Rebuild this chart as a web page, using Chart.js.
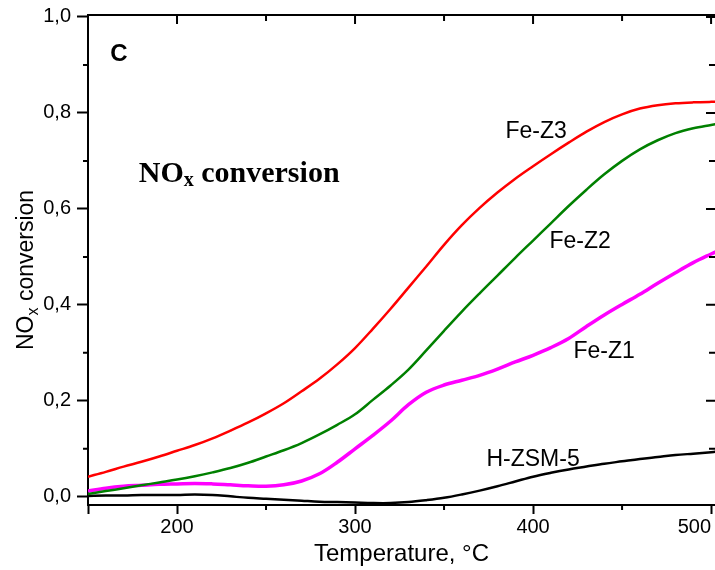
<!DOCTYPE html>
<html>
<head>
<meta charset="utf-8">
<script src="https://cdn.jsdelivr.net/npm/chart.js@4.4.0/dist/chart.umd.min.js"></script>
<style>
  body { margin: 0; background: #fff; }
</style>
</head>
<body>
<canvas id="myChart" width="715" height="570"></canvas>
<script>
// temperature (°C) and NOx conversion
const temps = [150,160,170,180,190,200,210,220,230,240,250,260,270,280,290,300,310,320,330,340,
               350,360,370,380,390,400,410,420,430,440,450,460,470,480,490,500,503];
const feZ3 = [0.042,0.052,0.063,0.073,0.084,0.096,0.108,0.122,0.138,0.155,0.174,0.195,0.220,0.246,0.276,0.310,0.350,0.392,0.436,0.480,
              0.525,0.566,0.602,0.634,0.663,0.689,0.714,0.738,0.761,0.781,0.797,0.809,0.816,0.820,0.822,0.823,0.823];
const feZ2 = [0.006,0.012,0.018,0.024,0.030,0.036,0.043,0.051,0.060,0.071,0.084,0.097,0.112,0.130,0.150,0.172,0.202,0.232,0.265,0.305,
              0.346,0.386,0.424,0.461,0.498,0.534,0.570,0.606,0.640,0.672,0.700,0.724,0.743,0.758,0.768,0.775,0.777];
const feZ1 = [0.012,0.018,0.022,0.024,0.026,0.027,0.028,0.027,0.025,0.023,0.022,0.025,0.033,0.048,0.072,0.100,0.128,0.158,0.192,0.218,
              0.233,0.243,0.253,0.266,0.281,0.295,0.311,0.330,0.355,0.379,0.401,0.422,0.445,0.467,0.488,0.506,0.511];
const hZsm5 = [0.002,0.003,0.003,0.004,0.004,0.004,0.005,0.004,0.001,-0.002,-0.004,-0.006,-0.008,-0.010,-0.011,-0.012,-0.013,-0.013,-0.011,-0.007,
               -0.002,0.005,0.013,0.022,0.032,0.042,0.050,0.057,0.063,0.069,0.074,0.079,0.083,0.087,0.090,0.093,0.094];

const seriesNames = ['Fe-Z3', 'Fe-Z2', 'Fe-Z1', 'H-ZSM-5'];

// axis ticks
const xMajor = [150, 200, 300, 400, 500];
const xMinor = [250, 350, 450];
const xTop = [200, 250, 300, 350, 400, 450, 500];
const yMajor = [0, 0.2, 0.4, 0.6, 0.8, 1.0];
const yMinor = [0.1, 0.3, 0.5, 0.7, 0.9];
const yRight = [0.1, 0.2, 0.3, 0.4, 0.5, 0.6, 0.7, 0.8, 0.9, 1.0];

function pts(vals) {
  return temps.map((t, i) => ({x: t, y: vals[i]}));
}

const sans = 'Liberation Sans, Arial, sans-serif';

// curve labels, in data coordinates
const notes = [
  {text: 'Fe-Z3', x: 401.7, y: 0.760},
  {text: 'Fe-Z2', x: 426.4, y: 0.531},
  {text: 'Fe-Z1', x: 439.9, y: 0.302},
  {text: 'H-ZSM-5', x: 400.0, y: 0.077}
];

// writes "NO", a lowered small "x", then the rest, starting at px
function noxText(ctx, px, py, big, small, drop, rest) {
  ctx.font = big;
  ctx.fillText('NO', px, py);
  px += ctx.measureText('NO').width;
  ctx.font = small;
  ctx.fillText('x', px, py + drop);
  px += ctx.measureText('x').width;
  ctx.font = big;
  ctx.fillText(rest, px, py);
}

const extras = {
  id: 'extras',
  afterDraw(chart) {
    const ctx = chart.ctx;
    const a = chart.chartArea;
    const x = chart.scales.x, y = chart.scales.y;
    ctx.save();
    ctx.strokeStyle = '#000';
    ctx.lineWidth = 2;
    ctx.beginPath();
    ctx.moveTo(a.left - 1, a.top);
    ctx.lineTo(a.right, a.top);
    xMinor.forEach(v => {
      const px = x.getPixelForValue(v);
      ctx.moveTo(px, a.bottom); ctx.lineTo(px, a.bottom + 5);
    });
    xTop.forEach(v => {
      const px = x.getPixelForValue(v);
      ctx.moveTo(px, a.top); ctx.lineTo(px, a.top + (v % 100 === 0 ? 9 : 6));
    });
    yMinor.forEach(v => {
      const py = y.getPixelForValue(v);
      ctx.moveTo(a.left, py); ctx.lineTo(a.left - 5, py);
    });
    yRight.forEach((v, i) => {
      const py = y.getPixelForValue(v);
      ctx.moveTo(a.right, py); ctx.lineTo(a.right - (i % 2 ? 9 : 6), py);
    });
    ctx.stroke();

    ctx.fillStyle = '#000';
    ctx.textAlign = 'center';
    ctx.textBaseline = 'middle';
    ctx.font = '23px ' + sans;
    notes.forEach(n => {
      ctx.fillText(n.text, x.getPixelForValue(n.x), y.getPixelForValue(n.y));
    });

    ctx.font = 'bold 24px ' + sans;
    ctx.fillText('C', x.getPixelForValue(167.4), y.getPixelForValue(0.921));

    // bold serif caption
    ctx.textAlign = 'left';
    ctx.textBaseline = 'alphabetic';
    noxText(ctx, x.getPixelForValue(178.5), y.getPixelForValue(0.677) + 10,
      'bold 30px Liberation Serif, serif', 'bold 20px Liberation Serif, serif', 4, ' conversion');

    // y axis title, rotated
    ctx.translate(33, 350);
    ctx.rotate(-Math.PI / 2);
    noxText(ctx, 0, 0, '23px ' + sans, '16px ' + sans, 5, ' conversion');
    ctx.restore();
  }
};

const ctx = document.getElementById('myChart');
new Chart(ctx, {
  type: 'line',
  data: {
    datasets: [
      {label: seriesNames[0], data: pts(feZ3), borderColor: '#ff0000', borderWidth: 2.5},
      {label: seriesNames[1], data: pts(feZ2), borderColor: '#008000', borderWidth: 2.5},
      {label: seriesNames[2], data: pts(feZ1), borderColor: '#ff00ff', borderWidth: 3.5},
      {label: seriesNames[3], data: pts(hZsm5), borderColor: '#000000', borderWidth: 2.5}
    ]
  },
  options: {
    responsive: false,
    animation: false,
    devicePixelRatio: 1,
    layout: {padding: {top: 15, left: 0, right: 0, bottom: 0}},
    elements: {
      point: {radius: 0},
      line: {tension: 0.35}
    },
    plugins: {legend: {display: false}, tooltip: {enabled: false}},
    scales: {
      x: {
        type: 'linear',
        min: 150,
        max: 502.2,
        afterBuildTicks: s => { s.ticks = xMajor.map(v => ({value: v})); },
        afterFit: s => { s.height = 65; s.paddingLeft = 0; s.paddingRight = 0; },
        grid: {drawOnChartArea: false, tickLength: 9, tickWidth: 2, tickColor: '#000'},
        border: {color: '#000', width: 2},
        ticks: {
          color: '#000', padding: 1, maxRotation: 0, align: 'inner',
          font: {family: sans, size: 20},
          callback: v => (v === 150 ? '' : String(v))
        },
        title: {
          display: true, text: 'Temperature, °C', color: '#000',
          font: {family: sans, size: 24}, padding: {top: 0, bottom: 1}
        }
      },
      y: {
        min: -0.017,
        max: 1.004,
        afterBuildTicks: s => { s.ticks = yMajor.map(v => ({value: v})); },
        afterFit: s => { s.width = 88; s.paddingTop = 0; s.paddingBottom = 0; },
        grid: {drawOnChartArea: false, tickLength: 11, tickWidth: 2, tickColor: '#000'},
        border: {color: '#000', width: 2},
        ticks: {
          color: '#000', padding: 6,
          font: {family: sans, size: 20},
          callback: v => v.toFixed(1).replace('.', ',')
        },
        title: {display: false}
      }
    }
  },
  plugins: [extras]
});
</script>
</body>
</html>
